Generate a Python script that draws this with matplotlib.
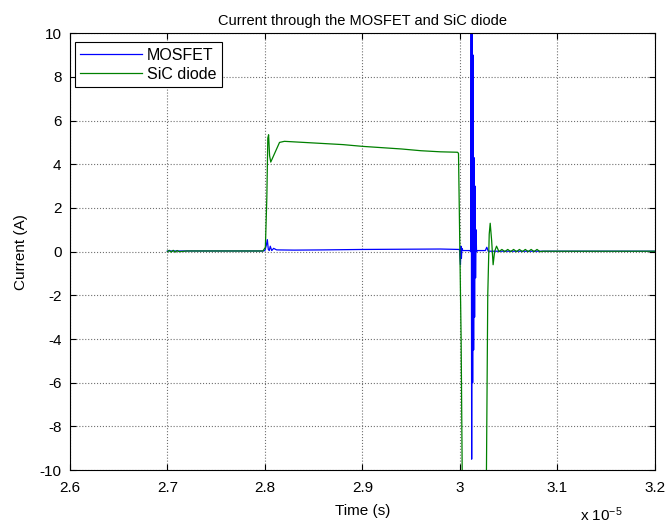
import matplotlib
matplotlib.use("Agg")
import matplotlib.pyplot as plt

plt.rcParams['font.family'] = ['Liberation Sans', 'DejaVu Sans']
plt.rcParams['axes.unicode_minus'] = False
plt.rcParams['mathtext.fontset'] = 'custom'
plt.rcParams['mathtext.rm'] = 'Liberation Sans'
plt.rcParams['mathtext.default'] = 'rm'

# time axis in units of 1e-5 s
mosfet_t = [2.700, 2.720, 2.760, 2.798, 2.800, 2.8015, 2.8025, 2.8035, 2.8045,
            2.8055, 2.807, 2.809, 2.812, 2.830, 2.860, 2.900, 2.940, 2.980,
            2.9995, 3.0005, 3.0010, 3.0015, 3.0020, 3.0030, 3.0060, 3.0100,
            3.0110, 3.0115, 3.0120, 3.0125, 3.0130, 3.0135, 3.0140, 3.0145,
            3.0150, 3.0155, 3.0160, 3.0165, 3.0170, 3.0180, 3.0260, 3.0275,
            3.0290, 3.0400, 3.2000]
mosfet_i = [0.03, 0.03, 0.03, 0.03, 0.05, 0.30, 0.55, 0.10, 0.05,
            0.25, 0.05, 0.15, 0.08, 0.07, 0.08, 0.10, 0.11, 0.12,
            0.10, -0.60, 0.25, -0.30, 0.15, 0.05, 0.05, 0.05,
            0.00, 12.0, -9.5, 11.5, -6.0, 9.0, -4.5, 4.3, -3.0,
            3.0, -1.2, 1.0, 0.0, 0.05, 0.05, 0.20, 0.02, 0.02, 0.02]

diode_t = [2.700, 2.702, 2.704, 2.706, 2.708, 2.710, 2.712, 2.720, 2.760,
           2.798, 2.8005, 2.8020, 2.8030, 2.8038, 2.8048, 2.8060, 2.8080,
           2.8110, 2.8150, 2.8200, 2.8400, 2.8600, 2.8800, 2.9000, 2.9200,
           2.9400, 2.9600, 2.9800, 2.9975, 2.9985, 3.0012, 3.0030, 3.0265,
           3.0285, 3.0300, 3.0310, 3.0325, 3.0340, 3.0355, 3.0375, 3.0400,
           3.0430, 3.0460, 3.0490, 3.0520, 3.0550, 3.0580, 3.0610, 3.0640,
           3.0670, 3.0700, 3.0730, 3.0760, 3.0790, 3.0820, 3.0850, 3.2000]
diode_i = [0.00, 0.06, -0.02, 0.06, -0.02, 0.05, 0.00, 0.03, 0.03,
           0.03, 0.20, 2.50, 5.20, 5.35, 4.40, 4.10, 4.30,
           4.60, 5.00, 5.05, 5.00, 4.95, 4.90, 4.82, 4.76,
           4.70, 4.62, 4.57, 4.55, 4.50, -4.0, -14.0, -14.0,
           -2.0, 0.8, 1.30, 0.50, -0.60, 0.00, 0.25, 0.00,
           0.10, 0.00, 0.10, 0.00, 0.10, 0.00, 0.10, 0.00,
           0.10, 0.00, 0.10, 0.00, 0.10, 0.00, 0.02, 0.02]

xticks = [2.6, 2.7, 2.8, 2.9, 3.0, 3.1, 3.2]
xticklabels = ['2.6', '2.7', '2.8', '2.9', '3', '3.1', '3.2']
yticks = [-10, -8, -6, -4, -2, 0, 2, 4, 6, 8, 10]

fig = plt.figure(figsize=(6.65, 5.27), dpi=100)
ax = fig.add_axes([0.105, 0.108, 0.88, 0.829])

ax.plot(mosfet_t, mosfet_i, color='#0000ff', lw=0.9, label='MOSFET')
ax.plot(diode_t, diode_i, color='#008000', lw=0.9, label='SiC diode')

ax.set_xlim(2.6, 3.2)
ax.set_ylim(-10, 10)
ax.set_xticks(xticks)
ax.set_xticklabels(xticklabels)
ax.set_yticks(yticks)
ax.tick_params(direction='in', top=True, right=True, length=4, labelsize=11)
ax.tick_params(axis='x', pad=8)
ax.tick_params(axis='y', pad=6)
ax.grid(True, linestyle=':', color='#707070', lw=0.8)
for s in ax.spines.values():
    s.set_linewidth(0.8)

ax.set_title('Current through the MOSFET and SiC diode', fontsize=10.5, pad=6)
ax.set_xlabel('Time (s)', fontsize=11, labelpad=6)
ax.set_ylabel('Current (A)', fontsize=11, labelpad=8)
fig.text(0.872, 0.012, r'x 10$^{-5}$', fontsize=11)

leg = ax.legend(loc='upper left', fontsize=11.5, fancybox=False, framealpha=1,
                edgecolor='black', bbox_to_anchor=(0.008, 0.98),
                borderaxespad=0.0, handlelength=3.9, handletextpad=0.3,
                borderpad=0.35, labelspacing=0.25)
leg.get_frame().set_linewidth(0.8)

fig.savefig('out.png', dpi=100)
